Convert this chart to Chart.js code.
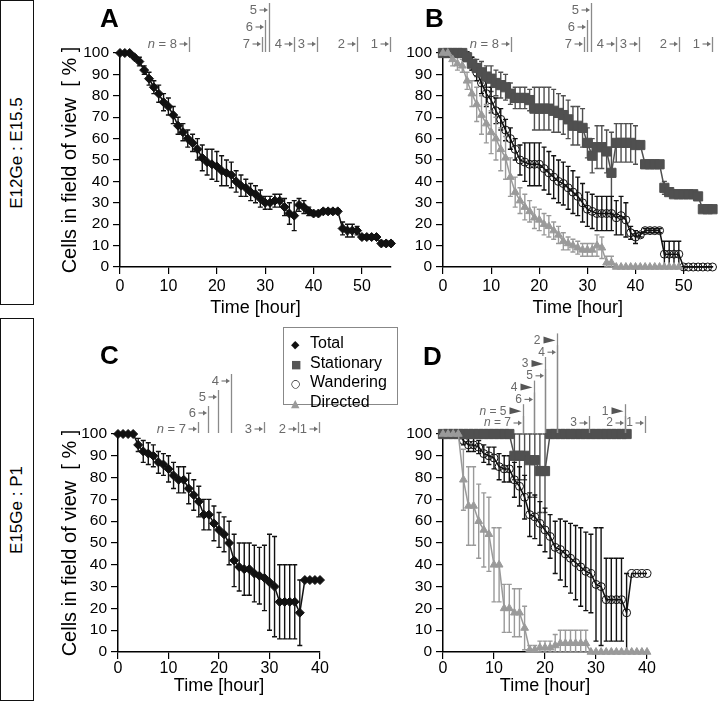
<!DOCTYPE html>
<html>
<head>
<meta charset="utf-8">
<script src="https://cdn.jsdelivr.net/npm/chart.js@4.4.0/dist/chart.umd.min.js"></script>
<style>
  body { margin: 0; width: 720px; height: 701px; overflow: hidden; background: #fff; position: relative;
         font-family: "Liberation Sans", Arial, sans-serif; }
  canvas { position: absolute; }
  .side { position: absolute; left: 0; width: 34px; border: 1.5px solid #111; box-sizing: border-box; }
  .side span { position: absolute; left: 50%; top: 50%; white-space: nowrap; font-size: 17px;
               transform: translate(-50%, -50%) rotate(-90deg); }
  .letter { position: absolute; font-weight: bold; font-size: 26px; line-height: 1; }
  #legend { position: absolute; left: 283px; top: 327px; width: 115px; height: 78px; box-sizing: border-box;
            border: 1.5px solid #888; padding: 6px 0 0 7px; font-size: 16px; line-height: 17.5px; }
  #legend .mk { display: inline-block; width: 19px; font-family: "DejaVu Sans"; font-size: 11px; }
</style>
</head>
<body>
<div class="side" style="top:0;height:305px"><span>E12Ge : E15.5</span></div>
<div class="side" style="top:318px;height:383px"><span>E15Ge : P1</span></div>

<canvas id="chartA"></canvas>
<canvas id="chartB"></canvas>
<canvas id="chartC"></canvas>
<canvas id="chartD"></canvas>

<div class="letter" style="left:100px;top:5px">A</div>
<div class="letter" style="left:425px;top:5px">B</div>
<div class="letter" style="left:100px;top:342px">C</div>
<div class="letter" style="left:423px;top:343px">D</div>

<div id="legend">
  <div><span class="mk" style="color:#111">◆</span>Total</div>
  <div><span class="mk" style="color:#555">■</span>Stationary</div>
  <div><span class="mk" style="color:#111">○</span>Wandering</div>
  <div><span class="mk" style="color:#9a9a9a">▲</span>Directed</div>
</div>

<script>
// ---- data: time points (hours) ----
const hoursE12 = [0,1,2,3,4,5,6,7,8,9,10,11,12,13,14,15,16,17,18,19,20,21,22,23,24,25,26,27,28,29,
                  30,31,32,33,34,35,36,37,38,39,40,41,42,43,44,45,46,47,48,49,50,51,52,53,54,55,56];
const hoursE15 = [0,1,2,3,4,5,6,7,8,9,10,11,12,13,14,15,16,17,18,19,20,
                  21,22,23,24,25,26,27,28,29,30,31,32,33,34,35,36,37,38,39,40];

// panel A: E12Ge : E15.5, total
const totalA    = [100,100,100,98,96,92,88,84,81,77, 75,71,66,63,60,58,55,51,49,48,
                   47,45,44,43,40,38,37,35,34,32, 30,30,31,31,28,25,24,29,28,26,
                   25,25,26,26,26,26,18,17,17,17, 14,14,14,14,11,11,11];
const totalAErr = [0,0,0,1,2,2,3,3,4,4, 4,4,4,4,4,4,5,6,6,7,
                   7,7,6,6,5,5,4,4,4,4, 3,3,3,3,4,5,7,3,3,2,
                   1,1,1,1,1,1,3,3,3,2, 1,1,1,1,1,1,1];

// panel B: E12Ge : E15.5, by migration type
const statB     = [100,100,100,100,100,98,95,93,91,89, 88,86,85,84,81,79,79,79,78,74,
                   74,74,74,73,72,71,69,66,66,65, 58,52,56,56,54,44,58,58,58,58,
                   57,57,48,48,48,48,37,35,34,34, 34,34,34,33,27,27,27];
const statBErr  = [0,0,0,0,0,1,3,4,5,5, 6,6,6,6,5,5,5,5,5,10,
                   10,10,10,10,9,9,9,9,9,9, 7,8,10,10,10,19,9,9,9,9,
                   9,0,0,0,0,0,3,2,0,0, 0,0,0,0,0,0,0];
const wandB     = [100,100,100,100,100,99,95,91,86,81, 78,73,69,64,60,55,50,49,48,48,
                   48,46,44,42,40,39,37,35,33,30, 27,26,25,25,25,25,23,24,22,16,
                   14,15,17,17,17,17,6,6,6,6, 0,0,0,0,0,0,0];
const wandBErr  = [0,0,0,0,0,1,3,4,5,6, 6,6,5,5,5,5,7,9,10,10,
                   10,10,10,10,10,10,10,10,9,9, 8,8,8,8,8,8,8,9,8,3,
                   3,1,1,1,1,1,6,6,6,6, 0,0,0,0,0,0,0];
const dirB      = [100,100,97,95,94,87,81,76,71,67, 63,60,55,51,42,35,31,28,26,23,
                   22,20,19,17,15,12,11,10,9,8, 8,8,10,9,2,2,0,0,0,0,
                   0,0,0,0,0,0,0,0,0,0, null,null,null,null,null,null,null];
const dirBErr   = [0,0,3,3,3,4,6,8,9,9, 10,10,10,10,9,7,6,6,5,5,
                   5,5,5,4,4,4,3,3,3,3, 3,3,5,5,3,3,0,0,0,0,
                   0,0,0,0,0,0,0,0,0,0, 0,0,0,0,0,0,0];

// panel C: E15Ge : P1, total
const totalC    = [100,100,100,100,95,92,91,90,87,86, 84,81,79,79,75,72,69,63,63,59,
                   56,54,50,42,39,38,38,36,35,34, 32,30,23,23,23,23,18,33,33,33, 33];
const totalCErr = [0,0,0,0,3,5,5,5,5,5, 6,6,6,6,7,7,7,7,7,8,
                   8,8,10,12,11,12,12,13,13,15, 22,23,17,17,17,17,15,0,0,0, 0];

// panel D: E15Ge : P1, by migration type
const statD     = [100,100,100,100,100,100,100,100,100,100, 100,100,100,100,90,90,90,88,88,83,
                   83,100,100,100,100,100,100,100,100,100, 100,100,100,100,100,100,100,null,null,null, null];
const statDErr  = [0,0,0,0,0,0,0,0,0,0, 0,0,0,0,11,11,11,17,17,19,
                   19,0,0,0,0,0,0,0,0,0, 0,0,0,0,0,0,0,0,0,0, 0];
const wandD     = [100,100,100,100,97,95,95,94,91,90, 89,85,84,84,79,76,71,63,62,59,
                   56,53,48,47,45,43,41,39,37,36, 31,30,24,24,24,24,18,36,36,36, 36];
const wandDErr  = [0,0,0,0,2,3,3,3,4,4, 5,6,6,6,8,9,10,10,10,10,
                   10,10,12,14,15,16,17,18,18,18, 26,27,19,19,19,19,18,0,0,0, 0];
const dirD      = [100,100,100,100,79,67,67,60,56,54, 40,40,20,20,18,18,11,1,1,2,
                   2,2,3,4,4,4,4,4,4,0, 0,0,0,0,0,0,0,0,0,0, 0];
const dirDErr   = [0,0,0,0,14,18,18,17,17,17, 17,17,11,11,11,11,10,2,2,3,
                   3,3,5,6,6,6,6,6,6,0, 0,0,0,0,0,0,0,0,0,0, 0];

// sample size changes (n cells remaining), marked above the plots
const nTimesE12  = [14.2, 29.3, 30.0, 30.8, 36.0, 40.8, 49.0, 55.8];
const nLabelsE12 = ['n = 8', '7', '6', '5', '4', '3', '2', '1'];
const nRowsE12   = [0, 0, 1, 2, 0, 0, 0, 0];

const nTimesC  = [15.8, 17.8, 19.8, 22.4, 28.9, 35.6, 39.8];
const nLabelsC = ['n = 7', '6', '5', '4', '3', '2', '1'];
const nRowsC   = [0, 1, 2, 3, 0, 0, 0];

const nTimesD  = [15.7, 15.7, 17.8, 17.8, 20.0, 20.0, 22.4, 22.4, 28.6, 35.7, 35.7, 39.6];
const nLabelsD = ['n = 7', 'n = 5', '6', '4', '5', '3', '4', '2', '3', '2', '1', '1'];
const nKindsD  = ['arrow', 'flag', 'arrow', 'flag', 'arrow', 'flag', 'arrow', 'flag', 'arrow', 'arrow', 'flag', 'arrow'];
const nRowsD   = [0, 1, 2, 3, 4, 5, 6, 7, 0, 0, 1, 0];

Chart.defaults.font.family = '"Liberation Sans", Arial, sans-serif';

const STYLE = {
  total: { borderColor: '#111', pointBackgroundColor: '#111', pointBorderColor: '#111', pointStyle: 'rectRot', pointRadius: 4.5, order: 3 },
  stat:  { borderColor: '#505050', pointBackgroundColor: '#505050', pointBorderColor: '#505050', pointStyle: 'rect', pointRadius: 6.5, order: 1 },
  wand:  { borderColor: '#111', pointBackgroundColor: 'rgba(255,255,255,0)', pointBorderColor: '#111', pointStyle: 'circle', pointRadius: 4, order: 2 },
  dir:   { borderColor: '#9a9a9a', pointBackgroundColor: '#9a9a9a', pointBorderColor: '#9a9a9a', pointStyle: 'triangle', pointRadius: 4.5, order: 0 },
};

function dataset(kind, hours, vals, errs) {
  return Object.assign({
    data: hours.map((h, i) => ({ x: h, y: vals[i] })),
    errors: errs,
    borderWidth: 1.5,
    pointBorderWidth: 1,
    tension: 0,
    fill: false,
    spanGaps: false,
    clip: 10,
  }, STYLE[kind]);
}

// vertical error bars with caps, drawn behind the markers
const errorBars = {
  id: 'errorBars',
  beforeDatasetsDraw(chart) {
    const { ctx, scales: { x, y } } = chart;
    ctx.save();
    chart.data.datasets.forEach(ds => {
      if (!ds.errors) return;
      ctx.strokeStyle = ds.borderColor;
      ctx.lineWidth = 1.4;
      ds.data.forEach((p, i) => {
        const e = ds.errors[i];
        if (p.y == null || !e) return;
        const px = x.getPixelForValue(p.x);
        const y1 = y.getPixelForValue(Math.min(100, p.y + e));
        const y2 = y.getPixelForValue(Math.max(0, p.y - e));
        ctx.beginPath();
        ctx.moveTo(px, y1); ctx.lineTo(px, y2);
        ctx.moveTo(px - 2.5, y1); ctx.lineTo(px + 2.5, y1);
        ctx.moveTo(px - 2.5, y2); ctx.lineTo(px + 2.5, y2);
        ctx.stroke();
      });
    });
    ctx.restore();
  }
};

// "n = 8 →|" style marks of the remaining sample size
const sizeMarks = {
  id: 'sizeMarks',
  afterDraw(chart, args, opts) {
    if (!opts.times) return;
    const { ctx, chartArea, scales: { x } } = chart;
    ctx.save();
    ctx.textBaseline = 'middle';
    ctx.textAlign = 'right';
    opts.times.forEach((t, i) => {
      const px = Math.round(x.getPixelForValue(t)) + 0.5;
      const cy = chartArea.top - opts.row0 - opts.rows[i] * opts.gap;
      ctx.strokeStyle = '#8a8a8a';
      ctx.lineWidth = 1.3;
      ctx.beginPath();
      ctx.moveTo(px, cy - 7);
      ctx.lineTo(px, chartArea.top - 1);
      ctx.stroke();

      let left;
      if (opts.kinds && opts.kinds[i] === 'flag') {
        ctx.fillStyle = '#555';
        ctx.beginPath();
        ctx.moveTo(px - 14, cy - 4);
        ctx.lineTo(px - 2, cy);
        ctx.lineTo(px - 14, cy + 3);
        ctx.closePath();
        ctx.fill();
        left = px - 17;
      } else {
        ctx.strokeStyle = '#707070';
        ctx.fillStyle = '#707070';
        ctx.lineWidth = 1.1;
        ctx.beginPath();
        ctx.moveTo(px - 10, cy); ctx.lineTo(px - 4, cy);
        ctx.stroke();
        ctx.beginPath();
        ctx.moveTo(px - 1.5, cy); ctx.lineTo(px - 5.5, cy - 2.5); ctx.lineTo(px - 5.5, cy + 2.5);
        ctx.closePath();
        ctx.fill();
        left = px - 12.5;
      }

      ctx.fillStyle = '#6a6a6a';
      const label = opts.labels[i];
      ctx.font = opts.size + 'px "Liberation Sans", Arial, sans-serif';
      if (label.startsWith('n')) {
        const rest = label.slice(1);
        ctx.fillText(rest, left, cy);
        const w = ctx.measureText(rest).width;
        ctx.font = 'italic ' + opts.size + 'px "Liberation Sans", Arial, sans-serif';
        ctx.fillText('n', left - w, cy);
      } else {
        ctx.fillText(label, left, cy);
      }
    });
    ctx.restore();
  }
};

function makeChart(id, box, datasets, xmax, marks) {
  const cv = document.getElementById(id);
  cv.width = box.w; cv.height = box.h;
  cv.style.left = box.l + 'px'; cv.style.top = box.t + 'px';
  const axisGrid = { drawOnChartArea: false, tickLength: 7, color: '#000', lineWidth: 1.2 };
  const axisBorder = { color: '#000', width: 1.5 };
  new Chart(cv, {
    type: 'line',
    data: { datasets },
    options: {
      responsive: false,
      animation: false,
      devicePixelRatio: 1,
      layout: { padding: { top: box.pt, right: box.pr, left: 0, bottom: 0 } },
      plugins: { legend: { display: false }, tooltip: { enabled: false }, sizeMarks: marks },
      scales: {
        x: {
          type: 'linear', min: 0, max: xmax,
          afterFit: s => { s.height = box.xh; },
          ticks: { stepSize: 10, includeBounds: false, autoSkip: false, padding: box.xtp, maxRotation: 0,
                   color: '#000', font: { size: 16 } },
          grid: axisGrid, border: axisBorder,
          title: { display: true, text: 'Time [hour]', color: '#000', font: { size: 18 }, padding: { top: 0, bottom: box.xtb } }
        },
        y: {
          min: 0, max: 100,
          afterFit: s => { s.width = box.yw; },
          ticks: { stepSize: 10, autoSkip: false, padding: 4, color: '#000', font: { size: 15.5 } },
          grid: axisGrid, border: axisBorder,
          title: { display: !!box.ytitle, text: 'Cells in field of view  [ % ]', color: '#000', font: { size: 20 },
                   padding: { top: 18, bottom: 0 } }
        }
      }
    },
    plugins: [errorBars, sizeMarks]
  });
}

makeChart('chartA',
  { l: 40, t: 0, w: 361, h: 322, pt: 53, pr: 10, yw: 80, xh: 55, xtp: 3, xtb: 3, ytitle: true },
  [dataset('total', hoursE12, totalA, totalAErr)], 56,
  { times: nTimesE12, labels: nLabelsE12, rows: nRowsE12, row0: 9, gap: 17, size: 13 });

makeChart('chartB',
  { l: 395, t: 0, w: 325, h: 322, pt: 53, pr: 4, yw: 48, xh: 55, xtp: 3, xtb: 3 },
  [dataset('stat', hoursE12, statB, statBErr),
   dataset('wand', hoursE12, wandB, wandBErr),
   dataset('dir', hoursE12, dirB, dirBErr)], 56,
  { times: nTimesE12, labels: nLabelsE12, rows: nRowsE12, row0: 9, gap: 17, size: 13 });

makeChart('chartC',
  { l: 40, t: 360, w: 292, h: 341, pt: 74, pr: 12, yw: 78, xh: 49, xtp: 0, xtb: 4, ytitle: true },
  [dataset('total', hoursE15, totalC, totalCErr)], 40,
  { times: nTimesC, labels: nLabelsC, rows: nRowsC, row0: 5, gap: 16, size: 13 });

makeChart('chartD',
  { l: 395, t: 320, w: 264, h: 381, pt: 114, pr: 12, yw: 48, xh: 49, xtp: 0, xtb: 4 },
  [dataset('stat', hoursE15, statD, statDErr),
   dataset('wand', hoursE15, wandD, wandDErr),
   dataset('dir', hoursE15, dirD, dirDErr)], 40,
  { times: nTimesD, labels: nLabelsD, kinds: nKindsD, rows: nRowsD, row0: 11, gap: 11.8, size: 12 });
</script>
</body>
</html>
